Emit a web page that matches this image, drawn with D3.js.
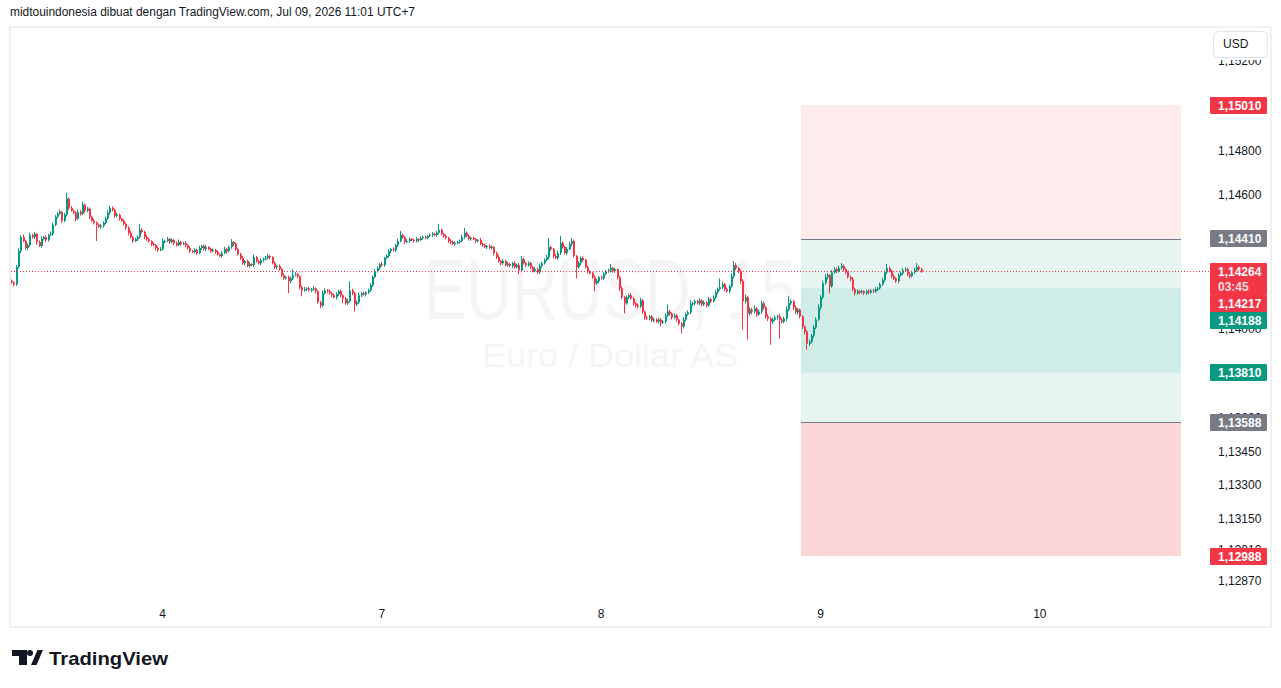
<!DOCTYPE html>
<html>
<head>
<meta charset="utf-8">
<script src="https://cdn.jsdelivr.net/npm/d3@7"></script>
<style>
body { margin: 0; background: #fff; }
svg { display: block; font-family: "Liberation Sans", Arial, sans-serif; }
</style>
</head>
<body>
<div id="chart"></div>
<script>
var svgWidth = 1281;
var svgHeight = 688;

// prices are stored as points above 1.13000 (1 point = 0.00001)
var basePrice = 1.13;
var pointSize = 0.00001;
var firstOpen = 1222;

var closes = [
  1215,1206,1283,1355,1418,1400,1369,1382,1427,1418,1432,1396,1378,1409,1418,1405,1427,1432,1473,1509,
  1522,1531,1491,1518,1590,1549,1536,1527,1500,1531,1522,1563,1536,1545,1509,1491,1482,1473,1464,1468,
  1482,1500,1527,1549,1540,1513,1518,1500,1491,1477,1459,1437,1418,1400,1409,1418,1450,1441,1418,1409,
  1400,1387,1382,1369,1360,1364,1400,1400,1409,1396,1405,1391,1382,1396,1387,1391,1382,1369,1355,1351,
  1360,1346,1369,1378,1364,1373,1364,1355,1360,1351,1341,1333,1346,1364,1355,1373,1396,1387,1364,1341,
  1324,1301,1310,1288,1297,1292,1328,1310,1301,1315,1319,1324,1333,1328,1301,1283,1288,1274,1247,1233,
  1238,1220,1233,1247,1251,1242,1193,1179,1184,1188,1179,1184,1188,1175,1125,1111,1166,1179,1175,1166,
  1157,1148,1161,1175,1157,1143,1121,1130,1179,1166,1116,1125,1157,1166,1161,1170,1179,1202,1238,1265,
  1279,1297,1292,1324,1333,1355,1364,1360,1382,1400,1427,1418,1396,1400,1409,1405,1400,1409,1405,1414,
  1418,1414,1423,1427,1432,1427,1437,1450,1432,1423,1414,1400,1396,1387,1391,1396,1400,1418,1437,1423,
  1409,1414,1409,1400,1405,1387,1382,1373,1378,1369,1373,1346,1328,1310,1301,1310,1292,1297,1288,1301,
  1283,1292,1269,1319,1301,1292,1301,1283,1265,1274,1260,1288,1301,1315,1328,1373,1364,1333,1324,1346,
  1391,1373,1346,1364,1387,1400,1333,1283,1301,1324,1315,1283,1265,1256,1238,1211,1220,1238,1233,1251,
  1265,1269,1279,1265,1274,1238,1188,1148,1121,1148,1157,1143,1121,1111,1107,1134,1084,1057,1053,1062,
  1044,1048,1039,1048,1035,1039,1066,1084,1075,1057,1066,1048,1030,1017,1048,1071,1080,1116,1121,1130,
  1121,1134,1116,1125,1111,1139,1130,1148,1170,1184,1193,1206,1184,1175,1197,1242,1292,1279,1265,1220,
  1130,1148,1075,1093,1084,1098,1071,1084,1121,1102,1062,1053,1039,1048,1057,1062,1048,1039,1053,1093,
  1121,1130,1102,1080,1093,1062,1017,994,940,949,976,1012,1048,1102,1148,1211,1238,1247,1197,1260,
  1274,1265,1279,1288,1274,1260,1238,1229,1184,1166,1175,1170,1175,1166,1175,1170,1179,1175,1184,1188,
  1206,1224,1260,1279,1265,1242,1233,1220,1247,1256,1269,1274,1251,1242,1260,1269,1283,1274,1264
];

// wick length above / below the body, in points
var hiExt = [
  6,4,9,12,8,11,5,7,10,6,9,5,7,12,4,8,6,11,9,7,
  8,10,5,9,27,6,8,5,7,11,9,14,5,8,6,4,9,7,5,8,
  6,9,11,9,7,5,10,6,4,8,5,7,9,4,6,8,27,7,5,9,
  6,4,8,5,7,9,13,6,10,5,8,4,7,11,5,6,9,4,7,5,
  8,6,10,5,7,9,4,6,8,5,7,4,9,11,6,8,13,5,7,4,
  6,9,5,7,10,4,12,6,5,8,7,9,11,6,4,8,5,7,6,9,
  5,7,8,27,9,6,4,8,10,5,7,6,9,4,5,7,12,9,6,8,
  5,7,9,6,8,4,6,10,41,7,5,9,12,6,7,5,8,10,7,9,
  8,6,10,5,7,9,6,8,5,11,19,6,4,8,7,5,6,9,4,7,
  6,8,5,7,9,6,8,27,6,4,7,5,8,6,9,5,7,11,22,6,
  7,5,8,6,4,9,6,7,5,8,6,4,7,9,5,8,6,10,7,5,
  8,6,9,14,7,5,8,6,4,9,7,11,6,8,10,41,7,5,9,12,
  32,8,6,10,9,14,7,5,9,6,8,5,7,4,6,8,10,5,7,9,
  6,8,18,5,7,4,6,9,5,8,7,10,6,5,9,12,6,4,8,7,
  6,9,5,8,7,6,10,32,8,5,9,6,4,7,11,8,9,18,6,8,
  7,9,5,8,6,11,7,9,10,8,40,12,6,9,7,13,18,9,6,7,
  9,12,6,10,8,14,7,9,12,8,6,10,5,8,9,6,11,7,9,14,
  31,8,6,10,7,5,6,4,7,9,8,12,10,14,9,11,13,8,6,10,
  9,7,11,13,8,6,5,7,9,6,8,5,7,4,6,8,5,7,9,6,
  8,11,9,18,7,6,8,5,9,7,10,8,6,9,7,11,18,8,6
];
var loExt = [
  5,10,7,6,9,5,8,11,6,7,9,12,5,8,6,10,7,4,8,6,
  7,5,9,6,8,10,5,7,12,6,8,5,9,7,10,6,8,73,5,9,
  8,6,5,9,7,10,6,8,5,7,9,11,6,8,5,9,7,6,10,8,
  7,9,5,11,8,6,7,10,5,8,6,9,7,5,8,6,10,7,9,5,
  6,8,5,9,7,10,6,8,5,9,7,6,8,5,10,6,7,9,8,6,
  9,7,10,6,8,5,9,7,6,10,8,5,7,9,6,8,10,7,9,8,
  6,54,9,7,5,8,10,27,6,8,5,9,7,10,6,13,8,6,9,7,
  8,6,10,7,9,22,6,8,5,9,32,7,6,8,5,9,7,6,8,5,
  7,9,6,8,5,7,9,6,8,10,5,7,9,6,8,5,7,6,9,5,
  8,6,7,5,9,6,8,7,5,9,6,8,10,6,7,5,8,6,9,7,
  6,8,5,9,7,6,8,5,9,6,7,10,8,6,9,7,5,8,6,9,
  7,5,18,9,6,8,7,10,6,5,9,7,8,6,5,9,7,10,6,8,
  9,7,6,8,5,10,7,50,6,9,8,7,10,6,8,36,7,9,6,8,
  5,7,9,6,8,10,12,9,46,7,8,6,10,9,8,7,11,9,6,8,
  7,9,6,8,18,7,10,6,8,9,7,10,8,32,9,7,6,8,7,9,
  6,8,10,7,9,6,8,5,7,9,6,8,10,7,9,6,8,10,9,12,
  127,10,117,9,12,8,10,7,11,9,10,12,104,9,8,10,86,9,8,11,
  7,9,12,8,10,9,11,13,27,10,8,9,7,6,9,8,7,10,31,6,
  7,9,6,8,10,7,6,9,8,10,7,9,6,8,7,9,6,8,7,9,
  6,8,7,9,6,10,8,7,9,6,8,7,9,10,6,8,7,9,6
];

// bar index of each day start on the time axis
var dayTicks = [66, 162, 258, 354, 450];
var dayLabels = ["4", "7", "8", "9", "10"];

var priceTicks = [1.152, 1.150, 1.148, 1.146, 1.144, 1.142, 1.140, 1.138, 1.136, 1.1345, 1.133, 1.1315, 1.1301, 1.1287];

var lastPrice = 1.14264;
var countdown = "03:45";
var prevPrice = 1.14217;

// position tool levels
var stopTop = 1.15010;
var entryTop = 1.14410;
var innerTop = 1.14188;
var innerBottom = 1.13810;
var entryBottom = 1.13588;
var stopBottom = 1.12988;
var positionBars = [345.7, 512];

var upColor = "#089981";
var downColor = "#f23645";
var grayColor = "#787b86";
var textColor = "#131722";

var svg = d3.select("#chart").append("svg")
    .attr("width", svgWidth)
    .attr("height", svgHeight);

var x = d3.scaleLinear().domain([66, 354]).range([162, 820]);
var y = d3.scaleLinear().domain([stopBottom, stopTop]).range([556, 105]);

function toPrice(v) { return basePrice + v * pointSize; }
function fmt(p) { return d3.format(".5f")(p).replace(".", ","); }

// header text
svg.append("text")
    .attr("x", 10).attr("y", 16)
    .attr("font-size", 12)
    .attr("fill", textColor)
    .attr("textLength", 405)
    .attr("lengthAdjust", "spacingAndGlyphs")
    .text("midtouindonesia dibuat dengan TradingView.com, Jul 09, 2026 11:01 UTC+7");

// chart frame
svg.append("rect")
    .attr("x", 10).attr("y", 27)
    .attr("width", 1261).attr("height", 600)
    .attr("fill", "#fff")
    .attr("stroke", "#f0f0f0")
    .attr("stroke-width", 2);

// watermark
svg.append("text")
    .attr("x", 610).attr("y", 319)
    .attr("text-anchor", "middle")
    .attr("font-size", 86)
    .attr("fill", "#f5f5f6")
    .attr("textLength", 372)
    .attr("lengthAdjust", "spacingAndGlyphs")
    .text("EURUSD, 15");
svg.append("text")
    .attr("x", 610).attr("y", 367)
    .attr("text-anchor", "middle")
    .attr("font-size", 34)
    .attr("fill", "#f5f5f6")
    .attr("textLength", 256)
    .attr("lengthAdjust", "spacingAndGlyphs")
    .text("Euro / Dollar AS");

// position zones
var zones = [
    [stopTop, entryTop, "rgba(242,54,69,0.1)"],
    [entryTop, entryBottom, "rgba(8,153,129,0.1)"],
    [innerTop, innerBottom, "rgba(8,153,129,0.1)"],
    [entryBottom, stopBottom, "rgba(242,54,69,0.2)"]
];
var zx0 = x(positionBars[0]), zx1 = x(positionBars[1]);
svg.append("g").selectAll("rect")
    .data(zones).enter().append("rect")
    .attr("x", zx0)
    .attr("y", d => y(d[0]))
    .attr("width", zx1 - zx0)
    .attr("height", d => y(d[1]) - y(d[0]))
    .attr("fill", d => d[2]);
svg.append("g").selectAll("line")
    .data([entryTop, entryBottom]).enter().append("line")
    .attr("x1", zx0).attr("x2", zx1)
    .attr("y1", d => Math.round(y(d)) + 0.5)
    .attr("y2", d => Math.round(y(d)) + 0.5)
    .attr("stroke", grayColor)
    .attr("stroke-width", 1);

// candles
var candles = closes.map(function(c, i) {
    var o = i ? closes[i - 1] : firstOpen;
    return {
        i: i,
        o: toPrice(o),
        c: toPrice(c),
        h: toPrice(Math.max(o, c) + hiExt[i]),
        l: toPrice(Math.min(o, c) - loExt[i])
    };
});

var candleGroup = svg.append("g");
candleGroup.selectAll(".wick")
    .data(candles).enter().append("line")
    .classed("wick", true)
    .attr("x1", d => Math.round(x(d.i)) + 0.5)
    .attr("x2", d => Math.round(x(d.i)) + 0.5)
    .attr("y1", d => y(d.h))
    .attr("y2", d => y(d.l))
    .attr("stroke", d => d.c >= d.o ? upColor : downColor)
    .attr("stroke-width", 1);
candleGroup.selectAll(".body")
    .data(candles).enter().append("rect")
    .classed("body", true)
    .attr("x", d => Math.round(x(d.i)))
    .attr("width", 2)
    .attr("y", d => y(Math.max(d.o, d.c)))
    .attr("height", d => Math.max(1, Math.abs(y(d.o) - y(d.c))))
    .attr("fill", d => d.c >= d.o ? upColor : downColor);

// last price dotted line
svg.append("line")
    .attr("x1", 11).attr("x2", 1210)
    .attr("y1", Math.round(y(lastPrice)) + 0.5)
    .attr("y2", Math.round(y(lastPrice)) + 0.5)
    .attr("stroke", downColor)
    .attr("stroke-width", 1)
    .attr("stroke-dasharray", "1,2");

// price axis
var priceAxis = d3.axisRight(y)
    .tickValues(priceTicks)
    .tickSize(0)
    .tickPadding(0)
    .tickFormat(fmt);
var pa = svg.append("g")
    .attr("transform", "translate(1218,-1.5)")
    .call(priceAxis);
pa.select(".domain").remove();
pa.selectAll("text")
    .attr("font-size", 12)
    .attr("font-family", "Liberation Sans, Arial, sans-serif")
    .attr("fill", textColor);

// time axis
var timeAxis = d3.axisBottom(x)
    .tickValues(dayTicks)
    .tickSize(0)
    .tickPadding(0)
    .tickFormat((d, i) => dayLabels[i]);
var ta = svg.append("g")
    .attr("transform", "translate(0,609)")
    .call(timeAxis);
ta.select(".domain").remove();
ta.selectAll("text")
    .attr("font-size", 12)
    .attr("font-family", "Liberation Sans, Arial, sans-serif")
    .attr("fill", textColor);

// USD button
svg.append("rect")
    .attr("x", 1210).attr("y", 29).attr("width", 60).attr("height", 31)
    .attr("fill", "#fff");
svg.append("rect")
    .attr("x", 1213.5).attr("y", 31.5).attr("width", 54).attr("height", 26)
    .attr("rx", 4)
    .attr("fill", "#fff")
    .attr("stroke", "#e0e3eb");
svg.append("text")
    .attr("x", 1223).attr("y", 48)
    .attr("font-size", 12)
    .attr("fill", textColor)
    .text("USD");

// price badges, pushed down when they overlap
var badges = [
    { p: stopTop, color: downColor, lines: [fmt(stopTop)] },
    { p: entryTop, color: grayColor, lines: [fmt(entryTop)] },
    { p: lastPrice, color: downColor, lines: [fmt(lastPrice), countdown] },
    { p: prevPrice, color: downColor, lines: [fmt(prevPrice)] },
    { p: innerTop, color: upColor, lines: [fmt(innerTop)] },
    { p: innerBottom, color: upColor, lines: [fmt(innerBottom)] },
    { p: entryBottom, color: grayColor, lines: [fmt(entryBottom)] },
    { p: stopBottom, color: downColor, lines: [fmt(stopBottom)] }
];
var lineH = 15;
var prevBottom = -Infinity;
badges.forEach(function(b) {
    var h = 2 + lineH * b.lines.length;
    var top = Math.round(y(b.p) - 8.5);
    if (top < prevBottom) top = prevBottom;
    b.top = top;
    b.h = h;
    prevBottom = top + h;
});
var bg = svg.append("g").selectAll("g")
    .data(badges).enter().append("g");
bg.append("rect")
    .attr("x", 1210)
    .attr("y", d => d.top)
    .attr("width", 57)
    .attr("height", d => d.h)
    .attr("rx", 1)
    .attr("fill", d => d.color);
bg.each(function(d) {
    var g = d3.select(this);
    d.lines.forEach(function(t, k) {
        g.append("text")
            .attr("x", 1218)
            .attr("y", d.top + 13 + k * lineH)
            .attr("font-size", 12)
            .attr("font-weight", "bold")
            .attr("fill", k ? "rgba(255,255,255,0.85)" : "#fff")
            .text(t);
    });
});

// TradingView logo
var logo = svg.append("g").attr("fill", textColor);
logo.append("rect").attr("x", 12).attr("y", 650).attr("width", 15).attr("height", 6);
logo.append("rect").attr("x", 19).attr("y", 650).attr("width", 8).attr("height", 15);
logo.append("circle").attr("cx", 30).attr("cy", 653).attr("r", 3);
logo.append("path").attr("d", "M31,665 L37.5,650 L43,650 L36.5,665 Z");
logo.append("text")
    .attr("x", 49).attr("y", 665)
    .attr("font-size", 19)
    .attr("font-weight", "bold")
    .attr("textLength", 119)
    .attr("lengthAdjust", "spacingAndGlyphs")
    .text("TradingView");
</script>
</body>
</html>
